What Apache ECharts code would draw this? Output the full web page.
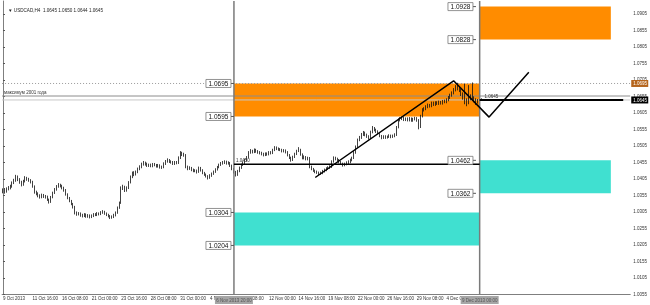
<!DOCTYPE html>
<html><head><meta charset="utf-8">
<script src="https://cdn.jsdelivr.net/npm/echarts@6/dist/echarts.min.js"></script>
<style>html,body{margin:0;padding:0;background:#fff}#c{width:650px;height:305px}</style>
</head><body><div id="c"></div>
<script>
// ---- data (USDCAD H4) ----
const firstOpen = 1.0368;
const closes = [
1.0372,1.0368,1.0375,1.0379,1.0382,1.0394,1.0401,1.0413,1.0404,1.0396,
1.0388,1.0399,1.0409,1.0405,1.0401,1.0397,1.0383,1.0366,1.0361,1.0355,
1.0351,1.0356,1.0353,1.0351,1.0343,1.0336,1.0350,1.0363,1.0374,1.0383,
1.0388,1.0384,1.0378,1.0372,1.0359,1.0348,1.0339,1.0330,1.0321,1.0303,
1.0299,1.0301,1.0296,1.0294,1.0298,1.0292,1.0295,1.0291,1.0294,1.0298,
1.0297,1.0301,1.0299,1.0304,1.0306,1.0301,1.0297,1.0293,1.0289,1.0291,
1.0296,1.0303,1.0318,1.0333,1.0378,1.0382,1.0371,1.0378,1.0395,1.0412,
1.0424,1.0419,1.0427,1.0436,1.0442,1.0450,1.0454,1.0451,1.0446,1.0448,
1.0445,1.0450,1.0448,1.0444,1.0447,1.0441,1.0442,1.0452,1.0459,1.0463,
1.0458,1.0457,1.0452,1.0456,1.0454,1.0470,1.0484,1.0480,1.0478,1.0442,
1.0437,1.0439,1.0433,1.0430,1.0431,1.0427,1.0439,1.0432,1.0424,1.0419,
1.0414,1.0409,1.0416,1.0421,1.0427,1.0434,1.0441,1.0448,1.0452,1.0455,
1.0457,1.0453,1.0454,1.0446,1.0436,1.0427,1.0418,1.0429,1.0439,1.0448,
1.0454,1.0462,1.0471,1.0485,1.0490,1.0488,1.0494,1.0489,1.0486,1.0484,
1.0481,1.0478,1.0482,1.0480,1.0486,1.0484,1.0493,1.0500,1.0497,1.0495,
1.0494,1.0490,1.0492,1.0487,1.0478,1.0470,1.0463,1.0472,1.0481,1.0490,
1.0494,1.0480,1.0469,1.0472,1.0466,1.0469,1.0442,1.0436,1.0431,1.0427,
1.0425,1.0421,1.0424,1.0429,1.0433,1.0437,1.0440,1.0442,1.0458,1.0469,
1.0466,1.0463,1.0457,1.0452,1.0448,1.0451,1.0455,1.0457,1.0463,1.0469,
1.0486,1.0503,1.0524,1.0531,1.0540,1.0545,1.0540,1.0534,1.0530,1.0548,
1.0560,1.0554,1.0549,1.0545,1.0536,1.0530,1.0534,1.0531,1.0533,1.0537,
1.0533,1.0536,1.0539,1.0562,1.0584,1.0588,1.0590,1.0585,1.0588,1.0584,
1.0589,1.0583,1.0587,1.0589,1.0584,1.0563,1.0596,1.0615,1.0618,1.0624,
1.0629,1.0627,1.0636,1.0631,1.0637,1.0634,1.0639,1.0635,1.0641,1.0639,
1.0645,1.0652,1.0659,1.0666,1.0675,1.0682,1.0679,1.0676,1.0663,1.0654,
1.0642,1.0636,1.0651,1.0656,1.0651,1.0644,1.0639,1.0643,1.0645,1.0645];
const highs = [
1.0377,1.0378,1.0380,1.0384,1.0388,1.0398,1.0406,1.0418,1.0416,1.0408,
1.0400,1.0403,1.0414,1.0412,1.0409,1.0405,1.0400,1.0386,1.0370,1.0365,
1.0359,1.0361,1.0360,1.0357,1.0355,1.0346,1.0354,1.0367,1.0378,1.0387,
1.0393,1.0391,1.0388,1.0382,1.0375,1.0362,1.0351,1.0342,1.0333,1.0324,
1.0307,1.0305,1.0304,1.0300,1.0302,1.0301,1.0299,1.0298,1.0298,1.0302,
1.0302,1.0305,1.0304,1.0308,1.0311,1.0309,1.0304,1.0300,1.0296,1.0295,
1.0300,1.0307,1.0322,1.0337,1.0383,1.0388,1.0385,1.0383,1.0399,1.0416,
1.0428,1.0429,1.0431,1.0440,1.0447,1.0455,1.0460,1.0458,1.0455,1.0452,
1.0452,1.0454,1.0454,1.0451,1.0451,1.0450,1.0446,1.0456,1.0463,1.0468,
1.0466,1.0462,1.0460,1.0460,1.0460,1.0474,1.0490,1.0488,1.0485,1.0481,
1.0446,1.0444,1.0442,1.0437,1.0435,1.0434,1.0443,1.0442,1.0435,1.0427,
1.0422,1.0417,1.0420,1.0425,1.0431,1.0438,1.0445,1.0452,1.0457,1.0460,
1.0462,1.0461,1.0459,1.0457,1.0449,1.0439,1.0430,1.0433,1.0443,1.0452,
1.0459,1.0467,1.0475,1.0490,1.0496,1.0494,1.0498,1.0497,1.0493,1.0490,
1.0488,1.0485,1.0486,1.0486,1.0490,1.0490,1.0497,1.0505,1.0504,1.0501,
1.0499,1.0497,1.0496,1.0495,1.0490,1.0481,1.0473,1.0476,1.0485,1.0494,
1.0502,1.0497,1.0483,1.0477,1.0475,1.0473,1.0472,1.0446,1.0439,1.0434,
1.0431,1.0428,1.0428,1.0433,1.0437,1.0441,1.0444,1.0447,1.0462,1.0474,
1.0473,1.0470,1.0466,1.0460,1.0455,1.0455,1.0459,1.0462,1.0467,1.0473,
1.0490,1.0507,1.0528,1.0536,1.0545,1.0551,1.0549,1.0543,1.0538,1.0552,
1.0566,1.0563,1.0558,1.0553,1.0548,1.0539,1.0538,1.0538,1.0537,1.0541,
1.0540,1.0540,1.0544,1.0566,1.0589,1.0593,1.0595,1.0594,1.0592,1.0592,
1.0593,1.0592,1.0591,1.0594,1.0593,1.0587,1.0600,1.0620,1.0623,1.0629,
1.0634,1.0633,1.0640,1.0640,1.0641,1.0641,1.0643,1.0642,1.0645,1.0646,
1.0650,1.0657,1.0664,1.0671,1.0681,1.0690,1.0697,1.0686,1.0680,1.0668,
1.0694,1.0650,1.0690,1.0662,1.0698,1.0656,1.0650,1.0648,1.0652,1.0650];
const lows = [
1.0362,1.0361,1.0364,1.0371,1.0374,1.0379,1.0390,1.0397,1.0399,1.0391,
1.0383,1.0385,1.0395,1.0400,1.0397,1.0392,1.0379,1.0361,1.0356,1.0350,
1.0346,1.0347,1.0348,1.0346,1.0339,1.0331,1.0333,1.0347,1.0360,1.0370,
1.0379,1.0380,1.0374,1.0367,1.0355,1.0344,1.0335,1.0326,1.0316,1.0298,
1.0294,1.0295,1.0291,1.0289,1.0290,1.0288,1.0288,1.0286,1.0287,1.0290,
1.0293,1.0293,1.0295,1.0296,1.0300,1.0297,1.0293,1.0289,1.0284,1.0285,
1.0287,1.0292,1.0300,1.0315,1.0330,1.0372,1.0366,1.0367,1.0375,1.0392,
1.0408,1.0414,1.0416,1.0423,1.0432,1.0438,1.0446,1.0446,1.0442,1.0442,
1.0441,1.0441,1.0444,1.0440,1.0440,1.0437,1.0436,1.0438,1.0448,1.0455,
1.0454,1.0452,1.0448,1.0448,1.0450,1.0451,1.0466,1.0475,1.0473,1.0438,
1.0432,1.0433,1.0429,1.0426,1.0426,1.0422,1.0424,1.0428,1.0420,1.0415,
1.0410,1.0404,1.0406,1.0412,1.0418,1.0424,1.0431,1.0438,1.0445,1.0449,
1.0451,1.0449,1.0449,1.0442,1.0432,1.0422,1.0413,1.0415,1.0426,1.0436,
1.0445,1.0451,1.0459,1.0468,1.0482,1.0483,1.0484,1.0485,1.0482,1.0480,
1.0477,1.0474,1.0475,1.0476,1.0477,1.0480,1.0481,1.0490,1.0493,1.0491,
1.0490,1.0486,1.0486,1.0483,1.0474,1.0466,1.0458,1.0460,1.0469,1.0478,
1.0487,1.0476,1.0465,1.0465,1.0462,1.0462,1.0438,1.0432,1.0427,1.0423,
1.0421,1.0417,1.0418,1.0420,1.0425,1.0429,1.0433,1.0436,1.0439,1.0455,
1.0462,1.0459,1.0453,1.0448,1.0443,1.0444,1.0447,1.0451,1.0453,1.0459,
1.0466,1.0482,1.0500,1.0520,1.0527,1.0536,1.0535,1.0530,1.0525,1.0527,
1.0544,1.0550,1.0545,1.0541,1.0532,1.0526,1.0527,1.0527,1.0528,1.0530,
1.0529,1.0530,1.0532,1.0536,1.0559,1.0580,1.0584,1.0581,1.0581,1.0580,
1.0580,1.0579,1.0579,1.0583,1.0579,1.0556,1.0560,1.0592,1.0610,1.0614,
1.0620,1.0622,1.0623,1.0627,1.0627,1.0630,1.0630,1.0631,1.0631,1.0635,
1.0635,1.0641,1.0648,1.0655,1.0662,1.0671,1.0674,1.0669,1.0657,1.0646,
1.0632,1.0626,1.0632,1.0644,1.0646,1.0638,1.0630,1.0634,1.0638,1.0644];

const timeLabels = ['9 Oct 2013','11 Oct 16:00','16 Oct 08:00','21 Oct 00:00','23 Oct 16:00','28 Oct 08:00',
  '31 Oct 00:00','4 Nov 16:00','7 Nov 08:00','12 Nov 00:00','14 Nov 16:00','19 Nov 08:00','22 Nov 00:00',
  '26 Nov 16:00','29 Nov 08:00','4 Dec 00:00'];
const labelStep = 16;          // bars between time labels
const totalSlots = 340;        // bars + right shift space
const priceAxis = {min:1.0055, max:1.0945, step:0.005};

const zones = [
  {from:258, to:329, top:1.0928, bottom:1.0828, color:'#ff8c00'},
  {from:125, to:258, top:1.0695, bottom:1.0595, color:'#ff8c00'},
  {from:258, to:329, top:1.0462, bottom:1.0362, color:'#40e0d0'},
  {from:125, to:258, top:1.0304, bottom:1.0204, color:'#40e0d0'}
];
const priceTags = [
  [256,1.0928],[256,1.0828],[125,1.0695],[125,1.0595],
  [256,1.0462],[256,1.0362],[125,1.0304],[125,1.0204]
];
const zigzag = [[169,1.0410],[243.9,1.0703],[263.1,1.0593],[284.6,1.0729]];
const vLines = [125, 258];
const vLineTimes = ['6 Nov 2013 20:00', '9 Dec 2013 00:00'];
const dottedLevel = 1.0695;
const level2001 = 1.0657;
const level2001Text = 'максимум 2001 года';
const bidPrice = 1.0645;
const supportLine = {from:125, to:258, price:1.0450, text:'1.0450'};
const blackLevel = {from:258, to:335.7, price:1.0645, text:'1.0645'};
const header = '\u25BC USDCAD,H4  1.0645 1.0650 1.0644 1.0645';

// ---- chart ----
const FONT = 'Liberation Sans';
const candleData = closes.map((c, i) => [i ? closes[i - 1] : firstOpen, c, lows[i], highs[i]]);
const cats = Array.from({length: totalSlots}, (_, i) => String(i));
const isLabel = i => i % labelStep === 0 && i / labelStep < timeLabels.length;
const X0 = -0.5, X1 = totalSlots - 0.5;

function seg(pts, color, width, type, z) {
  return {type:'line', xAxisIndex:1, data:pts, symbol:'none', silent:true, z:z,
    lineStyle:{color:color, width:width, type:type || 'solid'}};
}

const chart = echarts.init(document.getElementById('c'));
chart.setOption({
  animation:false,
  title:{text:header, left:3, top:3, textStyle:{fontSize:4.6, fontWeight:'normal', color:'#222', fontFamily:FONT}},
  grid:{left:0, right:18, top:1, bottom:10.4},
  xAxis:[
    {type:'category', data:cats, boundaryGap:true,
     axisLine:{lineStyle:{color:'#7f7f7f', width:1}},
     axisTick:{alignWithLabel:true, interval:(i) => isLabel(i), length:2, lineStyle:{color:'#555'}},
     axisLabel:{interval:(i) => isLabel(i), formatter:(v, i) => timeLabels[i / labelStep] || '',
       fontSize:4.5, color:'#333', align:'left', margin:2, fontFamily:FONT},
     splitLine:{show:false}},
    {type:'value', min:X0, max:X1, show:false}
  ],
  yAxis:{type:'value', position:'right', min:priceAxis.min, max:priceAxis.max, interval:priceAxis.step,
    axisLine:{show:true, lineStyle:{color:'#7f7f7f'}},
    axisTick:{show:true, length:2, lineStyle:{color:'#555'}},
    splitLine:{show:false},
    axisLabel:{fontSize:4.5, color:'#333', margin:3, fontFamily:FONT, showMaxLabel:false, showMinLabel:true,
      formatter:(v) => v.toFixed(4)}},
  series:[
    {type:'custom', xAxisIndex:1, z:1, silent:true,
     data:zones.map(r => [r.from, r.to, r.top, r.bottom]),
     renderItem:(p, api) => {
       const a = api.coord([api.value(0), api.value(2)]);
       const b = api.coord([api.value(1), api.value(3)]);
       return {type:'rect', shape:{x:a[0], y:a[1], width:b[0]-a[0], height:b[1]-a[1]},
         style:{fill:zones[p.dataIndex].color}};
     }},
    seg([[X0, dottedLevel],[X1, dottedLevel]], '#9a9a9a', 1, [1,2], 2),
    seg([[X0, level2001],[X1, level2001]], '#8c8c8c', 1, 'solid', 2),
    seg([[X0, bidPrice],[X1, bidPrice]], '#c8c8c8', 1, 'solid', 2),
    {type:'candlestick', xAxisIndex:0, data:candleData, barWidth:1, z:3, silent:true,
     itemStyle:{color:'#ffffff', color0:'#000000', borderColor:'#111', borderColor0:'#111', borderWidth:0.8}},
    seg([[vLines[0], priceAxis.min],[vLines[0], priceAxis.max]], '#7a7a7a', 1.5, 'solid', 4),
    seg([[vLines[1], priceAxis.min],[vLines[1], priceAxis.max]], '#7a7a7a', 1.5, 'solid', 4),
    seg([[supportLine.from, supportLine.price],[supportLine.to, supportLine.price]], '#000', 1.5, 'solid', 5),
    seg([[blackLevel.from, blackLevel.price],[blackLevel.to, blackLevel.price]], '#000', 2, 'solid', 5),
    seg(zigzag, '#000', 1.5, 'solid', 5),
    // price tags
    {type:'custom', xAxisIndex:1, z:6, silent:true, data:priceTags,
     renderItem:(p, api) => {
       const pt = api.coord([api.value(0), api.value(1)]);
       const w = 25, h = 8, tick = 3;
       const bx = pt[0] - tick - w;
       return {type:'group', children:[
         {type:'line', shape:{x1:pt[0]-tick, y1:pt[1], x2:pt[0], y2:pt[1]}, style:{stroke:'#555', lineWidth:1}},
         {type:'rect', shape:{x:bx, y:pt[1]-h/2, width:w, height:h}, style:{fill:'#fff', stroke:'#777', lineWidth:0.8}},
         {type:'text', style:{x:bx + w/2, y:pt[1] + 0.5, text:api.value(1).toFixed(4), fill:'#111',
           fontSize:6.5, fontFamily:FONT, align:'center', verticalAlign:'middle'}}
       ]};
     }},
    // small texts on chart
    {type:'custom', xAxisIndex:1, z:6, silent:true,
     data:[[X0, level2001, 0],[supportLine.from, supportLine.price, 1],[blackLevel.from + 1.5, blackLevel.price, 2]],
     renderItem:(p, api) => {
       const pt = api.coord([api.value(0), api.value(1)]);
       const txt = [level2001Text, supportLine.text, blackLevel.text][api.value(2)];
       return {type:'text', style:{x:pt[0] + 2, y:pt[1] - 1, text:txt, fill:'#333', fontSize:4.5,
         fontFamily:FONT, align:'left', verticalAlign:'bottom'}};
     }},
    // right axis markers
    {type:'custom', xAxisIndex:1, z:7, silent:true,
     data:[[X1, dottedLevel, 0],[X1, bidPrice, 1]],
     renderItem:(p, api) => {
       const pt = api.coord([api.value(0), api.value(1)]);
       const k = api.value(2);
       const h = 7;
       return {type:'group', children:[
         {type:'rect', shape:{x:pt[0] + 1, y:pt[1] - h/2, width:17, height:h},
           style:{fill:k ? '#000' : '#b5651d'}},
         {type:'text', style:{x:pt[0] + 3, y:pt[1] + 0.3, text:api.value(1).toFixed(4), fill:'#fff',
           fontSize:4.5, fontFamily:FONT, align:'left', verticalAlign:'middle'}}
       ]};
     }},
    // time-axis boxes of vertical lines
    {type:'custom', xAxisIndex:1, z:7, silent:true,
     data:vLines.map((b, i) => [b, priceAxis.min, i]),
     renderItem:(p, api) => {
       const pt = api.coord([api.value(0), api.value(1)]);
       const w = 38, h = 8;
       return {type:'group', children:[
         {type:'rect', shape:{x:pt[0] - w/2, y:pt[1] + 1.5, width:w, height:h}, style:{fill:'#a6a6a6'}},
         {type:'text', style:{x:pt[0], y:pt[1] + 5.8, text:vLineTimes[api.value(2)], fill:'#555',
           fontSize:4.5, fontFamily:FONT, align:'center', verticalAlign:'middle'}}
       ]};
     }}
  ]
});
</script>
</body></html>
